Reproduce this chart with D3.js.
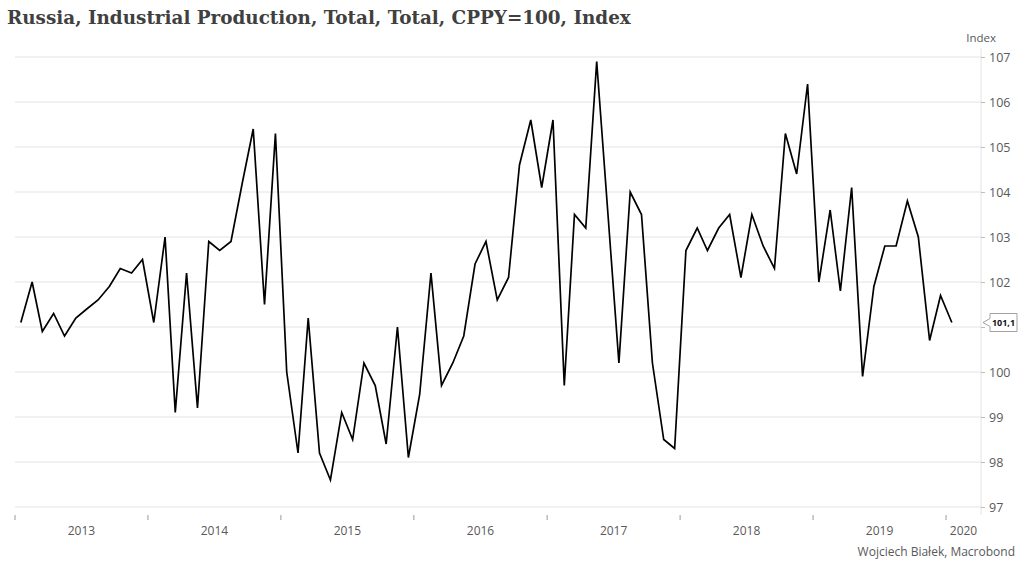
<!DOCTYPE html>
<html>
<head>
<meta charset="utf-8">
<script src="https://cdn.jsdelivr.net/npm/d3@7"></script>
<style>
  html, body { margin: 0; padding: 0; background: #ffffff; }
  svg { display: block; }
</style>
</head>
<body>
<svg id="chart" width="1024" height="569"></svg>
<script>
// ---- Data ----
const startMonth = "2013-01";
const values = [
  101.1, 102.0, 100.9, 101.3, 100.8, 101.2, 101.4, 101.6, 101.9, 102.3, 102.2, 102.5, // 2013
  101.1, 103.0, 99.1, 102.2, 99.2, 102.9, 102.7, 102.9, 104.2, 105.4, 101.5, 105.3,   // 2014
  100.0, 98.2, 101.2, 98.2, 97.6, 99.1, 98.5, 100.2, 99.7, 98.4, 101.0, 98.1,         // 2015
  99.5, 102.2, 99.7, 100.2, 100.8, 102.4, 102.9, 101.6, 102.1, 104.6, 105.6, 104.1,   // 2016
  105.6, 99.7, 103.5, 103.2, 106.9, 103.5, 100.2, 104.0, 103.5, 100.2, 98.5, 98.3,    // 2017
  102.7, 103.2, 102.7, 103.2, 103.5, 102.1, 103.5, 102.8, 102.3, 105.3, 104.4, 106.4, // 2018
  102.0, 103.6, 101.8, 104.1, 99.9, 101.9, 102.8, 102.8, 103.8, 103.0, 100.7, 101.7,  // 2019
  101.1                                                                               // 2020
];
const yTicks = [97, 98, 99, 100, 101, 102, 103, 104, 105, 106, 107];
const yearLabels = ["2013", "2014", "2015", "2016", "2017", "2018", "2019", "2020"];
const titleText = "Russia, Industrial Production, Total, Total, CPPY=100, Index";
const unitText = "Index";
const sourceText = "Wojciech Białek, Macrobond";
const lastLabel = "101,1";

// ---- Build series ----
const [sy, sm] = startMonth.split("-").map(Number);
const data = values.map((v, i) => ({ date: new Date(sy, sm - 1 + i, 17), value: v }));
const last = data[data.length - 1];

const svg = d3.select("#chart");
const axisFont = "'Open Sans', 'Noto Sans', sans-serif";
const gray = "#595959";

const x = d3.scaleTime()
  .domain([new Date(2013, 0, 1), new Date(2020, 0, 1)])
  .range([15, 946]);
const y = d3.scaleLinear().domain([97, 107]).range([507, 57]);
const plotRight = 981;

// Gridlines
svg.append("g").selectAll("line").data(yTicks).join("line")
  .attr("x1", 15).attr("x2", plotRight)
  .attr("y1", d => y(d)).attr("y2", d => y(d))
  .attr("stroke", "#e3e3e3").attr("stroke-width", 1);

// Right axis (tick label hidden where the last-value box covers it)
const yAxis = d3.axisRight(y).tickValues(yTicks).tickSize(4).tickPadding(4)
  .tickFormat(d => Math.abs(y(d) - y(last.value)) < 12 ? "" : d3.format("d")(d));
const ya = svg.append("g").attr("transform", `translate(${plotRight},0)`).call(yAxis);
ya.select(".domain").attr("stroke", "#e3e3e3").attr("d", `M0,48V515`);
ya.selectAll(".tick line").attr("stroke", "#bdbdbd");
ya.selectAll(".tick text").attr("fill", gray).attr("font-family", axisFont).attr("font-size", 12.5);

// X-axis ticks (year boundaries)
const yearStarts = d3.range(2013, 2021).map(yr => new Date(yr, 0, 1));
svg.append("g").selectAll("line").data(yearStarts).join("line")
  .attr("x1", d => x(d)).attr("x2", d => x(d))
  .attr("y1", 515).attr("y2", 520)
  .attr("stroke", "#9a9a9a").attr("stroke-width", 1);

// Year labels centered in each year span
svg.append("g").selectAll("text").data(yearLabels).join("text")
  .attr("x", (d, i) => {
    const a = x(new Date(+d, 0, 1));
    const b = i < yearLabels.length - 1 ? x(new Date(+d + 1, 0, 1)) : plotRight;
    return (a + b) / 2;
  })
  .attr("y", 535)
  .attr("text-anchor", "middle")
  .attr("fill", gray).attr("font-family", axisFont).attr("font-size", 12)
  .text(d => d);

// Line
const line = d3.line().x(d => x(d.date)).y(d => y(d.value));
svg.append("path").datum(data)
  .attr("fill", "none").attr("stroke", "#000").attr("stroke-width", 1.7)
  .attr("stroke-linejoin", "miter").attr("d", line);

// Last value label
const ly = y(last.value);
const lbl = svg.append("g");
lbl.append("path")
  .attr("d", `M983,${ly} L990,${ly - 4} L990,${ly - 9} L1017,${ly - 9} L1017,${ly + 9} L990,${ly + 9} L990,${ly + 4} Z`)
  .attr("fill", "#fff").attr("stroke", "#8a8a8a").attr("stroke-width", 0.8);
lbl.append("text").attr("x", 1003.5).attr("y", ly + 3.5)
  .attr("text-anchor", "middle").attr("font-family", axisFont)
  .attr("font-size", 9).attr("font-weight", "bold").attr("fill", "#111")
  .text(lastLabel);

// Unit label
svg.append("text").attr("x", 996).attr("y", 42).attr("text-anchor", "end")
  .attr("fill", gray).attr("font-family", axisFont).attr("font-size", 11.5)
  .text(unitText);

// Source
svg.append("text").attr("x", 1015).attr("y", 556).attr("text-anchor", "end")
  .attr("fill", gray).attr("font-family", axisFont).attr("font-size", 12)
  .text(sourceText);

// Title, fitted to target width
const title = svg.append("text").attr("x", 7).attr("y", 24)
  .attr("fill", "#404040").attr("font-family", "'DejaVu Serif', 'Liberation Serif', serif")
  .attr("font-weight", "bold").attr("font-size", 20)
  .text(titleText);
const tw = title.node().getComputedTextLength();
title.attr("font-size", 20 * 624 / tw);
</script>
</body>
</html>
